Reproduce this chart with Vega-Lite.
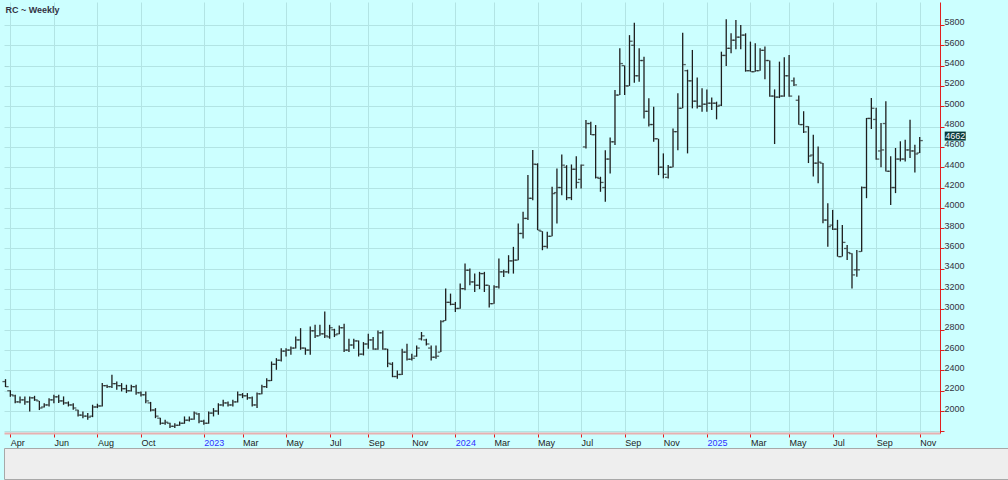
{
"$schema": "https://vega.github.io/schema/vega-lite/v6.json",
"padding": {"left": 2, "top": 2, "right": 0, "bottom": 0},
"background": "#ccffff",
"spacing": 0,
"config": {"font": "Liberation Sans", "view": {"stroke": null},
 "axisY": {"labelOverlap": false, "labelFlush": false, "labelBound": false, "tickCount": 30}},
"vconcat": [
{
"width": 936, "height": 431,
"title": {"text": "RC ~ Weekly", "anchor": "start", "offset": -13, "dx": 3, "fontSize": 9, "fontWeight": "bold", "color": "#333344"},
"data": {"values": [
{"d":"2022-03-21","o":2290,"h":2314,"l":2236,"c":2240},
{"d":"2022-03-28","o":2200,"h":2205,"l":2140,"c":2160},
{"d":"2022-04-04","o":2150,"h":2160,"l":2078,"c":2090},
{"d":"2022-04-11","o":2090,"h":2144,"l":2078,"c":2110},
{"d":"2022-04-18","o":2110,"h":2144,"l":2062,"c":2090},
{"d":"2022-04-25","o":2090,"h":2144,"l":1996,"c":2130},
{"d":"2022-05-02","o":2130,"h":2150,"l":2100,"c":2110},
{"d":"2022-05-09","o":2100,"h":2100,"l":2010,"c":2030},
{"d":"2022-05-16","o":2040,"h":2078,"l":2035,"c":2060},
{"d":"2022-05-23","o":2060,"h":2127,"l":2045,"c":2110},
{"d":"2022-05-30","o":2110,"h":2160,"l":2078,"c":2140},
{"d":"2022-06-06","o":2140,"h":2160,"l":2080,"c":2100},
{"d":"2022-06-13","o":2100,"h":2144,"l":2062,"c":2080},
{"d":"2022-06-20","o":2080,"h":2095,"l":2045,"c":2060},
{"d":"2022-06-27","o":2060,"h":2078,"l":2012,"c":2030},
{"d":"2022-07-04","o":2010,"h":2012,"l":1947,"c":1960},
{"d":"2022-07-11","o":1960,"h":1996,"l":1930,"c":1950},
{"d":"2022-07-18","o":1950,"h":1980,"l":1914,"c":1940},
{"d":"2022-07-25","o":1950,"h":2062,"l":1940,"c":2040},
{"d":"2022-08-01","o":2040,"h":2072,"l":2029,"c":2050},
{"d":"2022-08-08","o":2050,"h":2275,"l":2045,"c":2250},
{"d":"2022-08-15","o":2250,"h":2259,"l":2226,"c":2240},
{"d":"2022-08-22","o":2240,"h":2357,"l":2226,"c":2270},
{"d":"2022-08-29","o":2270,"h":2291,"l":2209,"c":2250},
{"d":"2022-09-05","o":2250,"h":2275,"l":2193,"c":2220},
{"d":"2022-09-12","o":2220,"h":2259,"l":2177,"c":2200},
{"d":"2022-09-19","o":2200,"h":2259,"l":2193,"c":2240},
{"d":"2022-09-26","o":2240,"h":2259,"l":2160,"c":2180},
{"d":"2022-10-03","o":2180,"h":2193,"l":2144,"c":2160},
{"d":"2022-10-10","o":2160,"h":2193,"l":2078,"c":2100},
{"d":"2022-10-17","o":2080,"h":2090,"l":1996,"c":2010},
{"d":"2022-10-24","o":2010,"h":2029,"l":1930,"c":1950},
{"d":"2022-10-31","o":1930,"h":1935,"l":1865,"c":1880},
{"d":"2022-11-07","o":1880,"h":1914,"l":1865,"c":1890},
{"d":"2022-11-14","o":1880,"h":1885,"l":1832,"c":1850},
{"d":"2022-11-21","o":1850,"h":1881,"l":1832,"c":1860},
{"d":"2022-11-28","o":1860,"h":1898,"l":1855,"c":1880},
{"d":"2022-12-05","o":1880,"h":1947,"l":1875,"c":1910},
{"d":"2022-12-12","o":1910,"h":1947,"l":1898,"c":1920},
{"d":"2022-12-19","o":1920,"h":1996,"l":1915,"c":1980},
{"d":"2022-12-26","o":1970,"h":1980,"l":1881,"c":1900},
{"d":"2023-01-02","o":1900,"h":1914,"l":1865,"c":1880},
{"d":"2023-01-09","o":1880,"h":1996,"l":1875,"c":1980},
{"d":"2023-01-16","o":1980,"h":2029,"l":1947,"c":2000},
{"d":"2023-01-23","o":2000,"h":2078,"l":1963,"c":2060},
{"d":"2023-01-30","o":2060,"h":2111,"l":2045,"c":2080},
{"d":"2023-02-06","o":2080,"h":2095,"l":2045,"c":2060},
{"d":"2023-02-13","o":2060,"h":2111,"l":2045,"c":2090},
{"d":"2023-02-20","o":2090,"h":2193,"l":2085,"c":2160},
{"d":"2023-02-27","o":2160,"h":2177,"l":2127,"c":2150},
{"d":"2023-03-06","o":2150,"h":2177,"l":2111,"c":2130},
{"d":"2023-03-13","o":2130,"h":2144,"l":2045,"c":2060},
{"d":"2023-03-20","o":2060,"h":2183,"l":2029,"c":2170},
{"d":"2023-03-27","o":2170,"h":2259,"l":2165,"c":2240},
{"d":"2023-04-03","o":2240,"h":2324,"l":2226,"c":2300},
{"d":"2023-04-10","o":2300,"h":2488,"l":2295,"c":2460},
{"d":"2023-04-17","o":2460,"h":2521,"l":2406,"c":2500},
{"d":"2023-04-24","o":2500,"h":2619,"l":2488,"c":2590},
{"d":"2023-05-01","o":2590,"h":2619,"l":2537,"c":2600},
{"d":"2023-05-08","o":2600,"h":2636,"l":2554,"c":2620},
{"d":"2023-05-15","o":2620,"h":2734,"l":2615,"c":2700},
{"d":"2023-05-22","o":2700,"h":2816,"l":2603,"c":2620},
{"d":"2023-05-29","o":2620,"h":2625,"l":2554,"c":2600},
{"d":"2023-06-05","o":2600,"h":2833,"l":2554,"c":2790},
{"d":"2023-06-12","o":2790,"h":2849,"l":2718,"c":2740},
{"d":"2023-06-19","o":2740,"h":2849,"l":2740,"c":2760},
{"d":"2023-06-26","o":2760,"h":2980,"l":2718,"c":2740},
{"d":"2023-07-03","o":2730,"h":2849,"l":2712,"c":2820},
{"d":"2023-07-10","o":2800,"h":2810,"l":2728,"c":2750},
{"d":"2023-07-17","o":2760,"h":2843,"l":2755,"c":2820},
{"d":"2023-07-24","o":2820,"h":2860,"l":2580,"c":2600},
{"d":"2023-07-31","o":2600,"h":2712,"l":2580,"c":2650},
{"d":"2023-08-07","o":2650,"h":2712,"l":2613,"c":2690},
{"d":"2023-08-14","o":2690,"h":2695,"l":2537,"c":2560},
{"d":"2023-08-21","o":2560,"h":2679,"l":2547,"c":2660},
{"d":"2023-08-28","o":2660,"h":2761,"l":2613,"c":2700},
{"d":"2023-09-04","o":2700,"h":2728,"l":2603,"c":2610},
{"d":"2023-09-11","o":2610,"h":2794,"l":2603,"c":2770},
{"d":"2023-09-18","o":2770,"h":2794,"l":2603,"c":2610},
{"d":"2023-09-25","o":2610,"h":2613,"l":2432,"c":2470},
{"d":"2023-10-02","o":2460,"h":2481,"l":2333,"c":2340},
{"d":"2023-10-09","o":2340,"h":2399,"l":2317,"c":2360},
{"d":"2023-10-16","o":2360,"h":2613,"l":2355,"c":2580},
{"d":"2023-10-23","o":2580,"h":2662,"l":2498,"c":2510},
{"d":"2023-10-30","o":2510,"h":2564,"l":2498,"c":2520},
{"d":"2023-11-06","o":2540,"h":2646,"l":2535,"c":2620},
{"d":"2023-11-13","o":2710,"h":2778,"l":2695,"c":2740},
{"d":"2023-11-20","o":2700,"h":2712,"l":2646,"c":2660},
{"d":"2023-11-27","o":2620,"h":2646,"l":2498,"c":2530},
{"d":"2023-12-04","o":2530,"h":2646,"l":2514,"c":2540},
{"d":"2023-12-11","o":2580,"h":2893,"l":2580,"c":2880},
{"d":"2023-12-18","o":2890,"h":3205,"l":2890,"c":3070},
{"d":"2023-12-25","o":3070,"h":3156,"l":3041,"c":3050},
{"d":"2024-01-01","o":3050,"h":3074,"l":2975,"c":3010},
{"d":"2024-01-08","o":3010,"h":3255,"l":3008,"c":3205},
{"d":"2024-01-15","o":3205,"h":3452,"l":3189,"c":3386},
{"d":"2024-01-22","o":3386,"h":3403,"l":3238,"c":3271},
{"d":"2024-01-29","o":3271,"h":3353,"l":3172,"c":3238},
{"d":"2024-02-05","o":3238,"h":3370,"l":3200,"c":3353},
{"d":"2024-02-12","o":3353,"h":3370,"l":3172,"c":3238},
{"d":"2024-02-19","o":3238,"h":3238,"l":3018,"c":3057},
{"d":"2024-02-26","o":3057,"h":3238,"l":3057,"c":3222},
{"d":"2024-03-04","o":3222,"h":3501,"l":3205,"c":3370},
{"d":"2024-03-11","o":3370,"h":3390,"l":3320,"c":3370},
{"d":"2024-03-18","o":3370,"h":3534,"l":3353,"c":3478},
{"d":"2024-03-25","o":3478,"h":3616,"l":3353,"c":3485},
{"d":"2024-04-01","o":3485,"h":3847,"l":3485,"c":3748},
{"d":"2024-04-08","o":3748,"h":3962,"l":3699,"c":3896},
{"d":"2024-04-15","o":3896,"h":4324,"l":3880,"c":4094},
{"d":"2024-04-22","o":4094,"h":4570,"l":4076,"c":4430},
{"d":"2024-04-29","o":4427,"h":4439,"l":3780,"c":3780},
{"d":"2024-05-06","o":3770,"h":3770,"l":3583,"c":3620},
{"d":"2024-05-13","o":3620,"h":3764,"l":3600,"c":3720},
{"d":"2024-05-20","o":3720,"h":4207,"l":3720,"c":4140},
{"d":"2024-05-27","o":4150,"h":4388,"l":3846,"c":4200},
{"d":"2024-06-03","o":4200,"h":4526,"l":4125,"c":4420},
{"d":"2024-06-10","o":4400,"h":4420,"l":4076,"c":4100},
{"d":"2024-06-17","o":4100,"h":4427,"l":4076,"c":4380},
{"d":"2024-06-24","o":4380,"h":4509,"l":4191,"c":4250},
{"d":"2024-07-01","o":4280,"h":4427,"l":4191,"c":4420},
{"d":"2024-07-08","o":4600,"h":4864,"l":4585,"c":4830},
{"d":"2024-07-15","o":4830,"h":4848,"l":4716,"c":4720},
{"d":"2024-07-22","o":4720,"h":4815,"l":4289,"c":4300},
{"d":"2024-07-29","o":4290,"h":4306,"l":4158,"c":4250},
{"d":"2024-08-05","o":4200,"h":4568,"l":4060,"c":4480},
{"d":"2024-08-12","o":4480,"h":4693,"l":4339,"c":4650},
{"d":"2024-08-19","o":4650,"h":5160,"l":4618,"c":5110},
{"d":"2024-08-26","o":5110,"h":5570,"l":5110,"c":5420},
{"d":"2024-09-02","o":5400,"h":5400,"l":5110,"c":5200},
{"d":"2024-09-09","o":5200,"h":5700,"l":5200,"c":5640},
{"d":"2024-09-16","o":5600,"h":5823,"l":5232,"c":5300},
{"d":"2024-09-23","o":5300,"h":5570,"l":5242,"c":5450},
{"d":"2024-09-30","o":5450,"h":5488,"l":4880,"c":4950},
{"d":"2024-10-07","o":4950,"h":5078,"l":4800,"c":4820},
{"d":"2024-10-14","o":4820,"h":4996,"l":4650,"c":4680},
{"d":"2024-10-21","o":4680,"h":4680,"l":4322,"c":4400},
{"d":"2024-10-28","o":4400,"h":4536,"l":4290,"c":4330},
{"d":"2024-11-04","o":4300,"h":4421,"l":4290,"c":4400},
{"d":"2024-11-11","o":4400,"h":4782,"l":4400,"c":4750},
{"d":"2024-11-18","o":4750,"h":5127,"l":4568,"c":4980},
{"d":"2024-11-25","o":4980,"h":5724,"l":4980,"c":5410},
{"d":"2024-12-02","o":5350,"h":5360,"l":4536,"c":5250},
{"d":"2024-12-09","o":5250,"h":5554,"l":4979,"c":5050},
{"d":"2024-12-16","o":5050,"h":5284,"l":4979,"c":5000},
{"d":"2024-12-23","o":5000,"h":5176,"l":4946,"c":5020},
{"d":"2024-12-30","o":5020,"h":5166,"l":4946,"c":5030},
{"d":"2025-01-06","o":5030,"h":5087,"l":4963,"c":5030},
{"d":"2025-01-13","o":5030,"h":5045,"l":4871,"c":5000},
{"d":"2025-01-20","o":5010,"h":5537,"l":5002,"c":5500},
{"d":"2025-01-27","o":5500,"h":5856,"l":5396,"c":5570},
{"d":"2025-02-03","o":5570,"h":5718,"l":5521,"c":5650},
{"d":"2025-02-10","o":5650,"h":5849,"l":5560,"c":5680},
{"d":"2025-02-17","o":5680,"h":5800,"l":5560,"c":5700},
{"d":"2025-02-24","o":5700,"h":5718,"l":5340,"c":5350},
{"d":"2025-03-03","o":5350,"h":5636,"l":5340,"c":5340},
{"d":"2025-03-10","o":5340,"h":5620,"l":5340,"c":5350},
{"d":"2025-03-17","o":5350,"h":5570,"l":5350,"c":5550},
{"d":"2025-03-24","o":5550,"h":5587,"l":5265,"c":5450},
{"d":"2025-03-31","o":5450,"h":5450,"l":5094,"c":5100},
{"d":"2025-04-07","o":5100,"h":5166,"l":4628,"c":5090},
{"d":"2025-04-14","o":5090,"h":5439,"l":5080,"c":5100},
{"d":"2025-04-21","o":5100,"h":5481,"l":5094,"c":5300},
{"d":"2025-04-28","o":5300,"h":5504,"l":5094,"c":5100},
{"d":"2025-05-05","o":5250,"h":5284,"l":5199,"c":5210},
{"d":"2025-05-12","o":5059,"h":5105,"l":4819,"c":4819},
{"d":"2025-05-19","o":4820,"h":4951,"l":4737,"c":4747},
{"d":"2025-05-26","o":4800,"h":4803,"l":4441,"c":4510},
{"d":"2025-06-02","o":4520,"h":4720,"l":4309,"c":4440},
{"d":"2025-06-09","o":4440,"h":4605,"l":4243,"c":4450},
{"d":"2025-06-16","o":4440,"h":4441,"l":3849,"c":3880},
{"d":"2025-06-23","o":3880,"h":4046,"l":3618,"c":3815},
{"d":"2025-06-30","o":3830,"h":3980,"l":3783,"c":3790},
{"d":"2025-07-07","o":3790,"h":3882,"l":3520,"c":3520},
{"d":"2025-07-14","o":3520,"h":3832,"l":3520,"c":3660},
{"d":"2025-07-21","o":3600,"h":3635,"l":3487,"c":3560},
{"d":"2025-07-28","o":3550,"h":3553,"l":3207,"c":3340},
{"d":"2025-08-04","o":3390,"h":3585,"l":3322,"c":3390},
{"d":"2025-08-11","o":3570,"h":4210,"l":3569,"c":4200},
{"d":"2025-08-18","o":4200,"h":4885,"l":4095,"c":4880},
{"d":"2025-08-25","o":4880,"h":5082,"l":4776,"c":4980},
{"d":"2025-09-01","o":4870,"h":4984,"l":4474,"c":4480},
{"d":"2025-09-08","o":4560,"h":4836,"l":4400,"c":4570},
{"d":"2025-09-15","o":4830,"h":5049,"l":4358,"c":4360},
{"d":"2025-09-22","o":4360,"h":4507,"l":4029,"c":4200},
{"d":"2025-09-29","o":4200,"h":4589,"l":4145,"c":4480},
{"d":"2025-10-06","o":4480,"h":4655,"l":4457,"c":4480},
{"d":"2025-10-13","o":4480,"h":4671,"l":4457,"c":4570},
{"d":"2025-10-20","o":4570,"h":4868,"l":4490,"c":4560},
{"d":"2025-10-27","o":4560,"h":4622,"l":4349,"c":4530},
{"d":"2025-11-03","o":4540,"h":4697,"l":4540,"c":4662}
]},
"encoding": {
"x": {"field": "d", "type": "temporal",
"scale": {"type": "utc", "domain": [1647630720000, 1764664704000]},
"axis": {"title": null, "tickCount": 40,
"values": [
{"year":2022,"month":3,"date":28,"utc":true},{"year":2022,"month":5,"date":30,"utc":true},{"year":2022,"month":8,"date":1,"utc":true},{"year":2022,"month":10,"date":3,"utc":true},
{"year":2023,"month":1,"date":2,"utc":true},{"year":2023,"month":2,"date":27,"utc":true},{"year":2023,"month":5,"date":1,"utc":true},{"year":2023,"month":7,"date":3,"utc":true},{"year":2023,"month":8,"date":28,"utc":true},{"year":2023,"month":10,"date":30,"utc":true},
{"year":2024,"month":1,"date":1,"utc":true},{"year":2024,"month":2,"date":26,"utc":true},{"year":2024,"month":4,"date":29,"utc":true},{"year":2024,"month":7,"date":1,"utc":true},{"year":2024,"month":9,"date":2,"utc":true},{"year":2024,"month":10,"date":28,"utc":true},
{"year":2024,"month":12,"date":30,"utc":true},{"year":2025,"month":3,"date":3,"utc":true},{"year":2025,"month":4,"date":28,"utc":true},{"year":2025,"month":6,"date":30,"utc":true},{"year":2025,"month":9,"date":1,"utc":true},{"year":2025,"month":11,"date":3,"utc":true}],
"labelExpr": "utcmonth(datum.value + 518400000) == 0 ? utcFormat(datum.value + 518400000, '%Y') : utcFormat(datum.value + 518400000, '%b')",
"labelColor": {"condition": {"test": "utcmonth(datum.value + 518400000) == 0", "value": "#3030ff"}, "value": "#222222"},
"labelAlign": "left", "labelFontSize": 9, "labelPadding": 1, "labelOverlap": false, "labelFlush": false,
"tickColor": "#e02020", "tickSize": 4, "tickWidth": 1,
"domainColor": "#e8b0b0", "domainWidth": 2,
"grid": true, "gridColor": "#b2e4e4", "gridWidth": 1}}
},
"layer": [
{"mark": {"type": "rule", "color": "#1e1e1e", "strokeWidth": 1.3},
 "encoding": {"y": {"field": "l", "type": "quantitative",
   "scale": {"domain": [1784, 6026], "nice": false, "zero": false},
   "axis": {"title": null, "orient": "right", "tickCount": 30,
     "values": [1800,2000,2200,2400,2600,2800,3000,3200,3400,3600,3800,4000,4200,4400,4600,4800,5000,5200,5400,5600,5800],
     "format": "d", "labelExpr": "datum.value < 1900 ? '' : datum.label",
     "labelOverlap": false, "labelFlush": false, "labelBound": false,
     "labelAlign": "left", "labelBaseline": "middle", "labelFontSize": 9, "labelColor": "#333340", "labelPadding": 0, "labelOffset": -3,
     "tickColor": "#e02020", "tickSize": 4, "domainColor": "#e02020", "domainWidth": 1,
     "grid": true, "gridColor": "#b2e4e4", "gridWidth": 1}},
   "y2": {"field": "h"}}},
{"mark": {"type": "tick", "orient": "horizontal", "xOffset": -1.8, "size": 2.6, "thickness": 1.3, "color": "#1e1e1e"},
 "encoding": {"y": {"field": "o", "type": "quantitative", "axis": {"title": null, "orient": "right", "tickCount": 30}}}},
{"mark": {"type": "tick", "orient": "horizontal", "xOffset": 1.8, "size": 2.6, "thickness": 1.3, "color": "#1e1e1e"},
 "encoding": {"y": {"field": "c", "type": "quantitative", "axis": {"title": null, "orient": "right", "tickCount": 30}}}},
{"data": {"values": [{"d": "2025-11-03", "c": 4662}]},
 "mark": {"type": "rect", "color": "#0a3c3c", "xOffset": 25, "x2Offset": 46, "yOffset": -9, "y2Offset": 0},
 "encoding": {"x2": {"field": "d"}, "y": {"field": "c", "type": "quantitative", "axis": {"title": null, "orient": "right", "tickCount": 30}}, "y2": {"field": "c"}}},
{"data": {"values": [{"d": "2025-11-03", "c": 4662}]},
 "mark": {"type": "text", "color": "#ffffff", "dx": 35.5, "dy": -4.5, "fontSize": 9, "align": "center", "baseline": "middle"},
 "encoding": {"y": {"field": "c", "type": "quantitative", "axis": {"title": null, "orient": "right", "tickCount": 30}}, "text": {"field": "c", "type": "quantitative", "format": "d"}}}
]
},
{
"width": 1004, "height": 31,
"view": {"fill": "#eeeeee", "stroke": "#a8a8a8"},
"data": {"values": []},
"mark": "rect"
}
]
}
